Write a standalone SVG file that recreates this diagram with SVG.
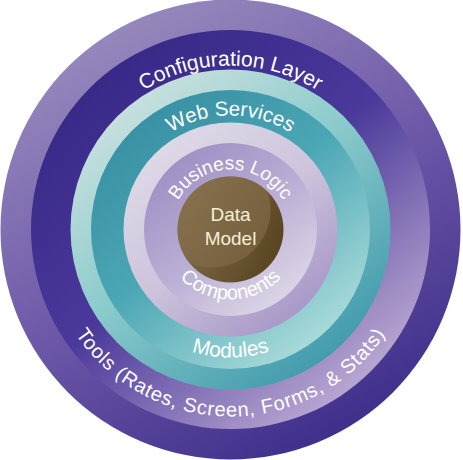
<svg xmlns="http://www.w3.org/2000/svg" width="463" height="460" viewBox="0 0 463 460">
  <defs>
    <linearGradient id="gOuter" x1="0.2" y1="0" x2="0.75" y2="1">
      <stop offset="0" stop-color="#9c8fbf"/>
      <stop offset="0.5" stop-color="#6f5aa9"/>
      <stop offset="1" stop-color="#3b2b88"/>
    </linearGradient>
    <linearGradient id="gConfig" x1="0.15" y1="0.1" x2="0.85" y2="0.95">
      <stop offset="0" stop-color="#372887"/>
      <stop offset="0.45" stop-color="#4a389a"/>
      <stop offset="1" stop-color="#c6b4d8"/>
    </linearGradient>
    <linearGradient id="gPaleTeal" x1="0.15" y1="0.05" x2="0.85" y2="0.95">
      <stop offset="0" stop-color="#cfe3e1"/>
      <stop offset="0.45" stop-color="#8ccbcc"/>
      <stop offset="1" stop-color="#3a96a9"/>
    </linearGradient>
    <linearGradient id="gTeal" x1="0.15" y1="0.05" x2="0.85" y2="0.95">
      <stop offset="0" stop-color="#378ea3"/>
      <stop offset="0.45" stop-color="#4aa6b4"/>
      <stop offset="1" stop-color="#b4e0de"/>
    </linearGradient>
    <linearGradient id="gPaleLav" x1="0.15" y1="0.05" x2="0.85" y2="0.95">
      <stop offset="0" stop-color="#e0dbe8"/>
      <stop offset="0.5" stop-color="#cdc4dc"/>
      <stop offset="1" stop-color="#a393c5"/>
    </linearGradient>
    <linearGradient id="gLav" x1="0.15" y1="0.05" x2="0.85" y2="0.95">
      <stop offset="0" stop-color="#9c8ec3"/>
      <stop offset="0.5" stop-color="#b9aed4"/>
      <stop offset="1" stop-color="#e0d9e8"/>
    </linearGradient>
    <linearGradient id="gCore" x1="0" y1="0.3" x2="1" y2="0.7">
      <stop offset="0" stop-color="#85704e"/>
      <stop offset="1" stop-color="#58431f"/>
    </linearGradient>
    <linearGradient id="gCoreHi" x1="0" y1="0" x2="1" y2="1">
      <stop offset="0" stop-color="#8c7652"/>
      <stop offset="1" stop-color="#7a6441"/>
    </linearGradient>
    <clipPath id="coreClip">
      <circle cx="0" cy="0" r="53"/>
    </clipPath>
    <path id="pConfig" d="M -164 0 A 164 164 0 0 1 164 0"/>
    <path id="pWeb" d="M -114 0 A 114 114 0 0 1 114 0"/>
    <path id="pBiz" d="M -60 0 A 60 60 0 0 1 60 0"/>
    <path id="pComp" d="M -70 0 A 70 70 0 0 0 70 0"/>
    <path id="pMod" d="M -128 0 A 128 128 0 0 0 128 0"/>
    <path id="pTools" d="M -187 0 A 187 187 0 0 0 187 0"/>
  </defs>
  <style>
    .lbl { font-family: "Liberation Sans", Arial, sans-serif; fill: #ffffff; text-anchor: middle; }
    .core { font-family: "Liberation Sans", Arial, sans-serif; fill: #f6efd6; font-size: 19px; text-anchor: middle; }
  </style>
  <g transform="translate(230.5,229.5)">
    <g id="outer-ring">
      <circle r="230" fill="url(#gOuter)"/>
    </g>
    <g id="configuration-layer">
      <circle r="199.5" fill="url(#gConfig)"/>
      <text class="lbl" font-size="21"><textPath href="#pConfig" startOffset="50%">Configuration Layer</textPath></text>
      <text class="lbl" font-size="20"><textPath href="#pTools" startOffset="50%" textLength="365" lengthAdjust="spacing">Tools (Rates, Screen, Forms, &amp; Stats)</textPath></text>
    </g>
    <g id="pale-teal-ring">
      <circle r="160" fill="url(#gPaleTeal)"/>
    </g>
    <g id="web-services">
      <circle r="139.5" fill="url(#gTeal)"/>
      <text class="lbl" font-size="20.5"><textPath href="#pWeb" startOffset="50%">Web Services</textPath></text>
      <text class="lbl" font-size="21"><textPath href="#pMod" startOffset="50%">Modules</textPath></text>
    </g>
    <g id="pale-lavender-ring">
      <circle r="107" fill="url(#gPaleLav)"/>
    </g>
    <g id="business-logic">
      <circle r="86.5" fill="url(#gLav)"/>
      <text class="lbl" font-size="19"><textPath href="#pBiz" startOffset="50%">Business Logic</textPath></text>
      <text class="lbl" font-size="20"><textPath href="#pComp" startOffset="50%">Components</textPath></text>
    </g>
    <g id="data-model">
      <circle r="53" fill="url(#gCore)"/>
      <g clip-path="url(#coreClip)">
        <circle cx="-18" cy="-20" r="58" fill="url(#gCoreHi)" opacity="0.75"/>
      </g>
      <text class="core" x="0" y="-9">Data</text>
      <text class="core" x="0" y="15">Model</text>
    </g>
  </g>
</svg>
